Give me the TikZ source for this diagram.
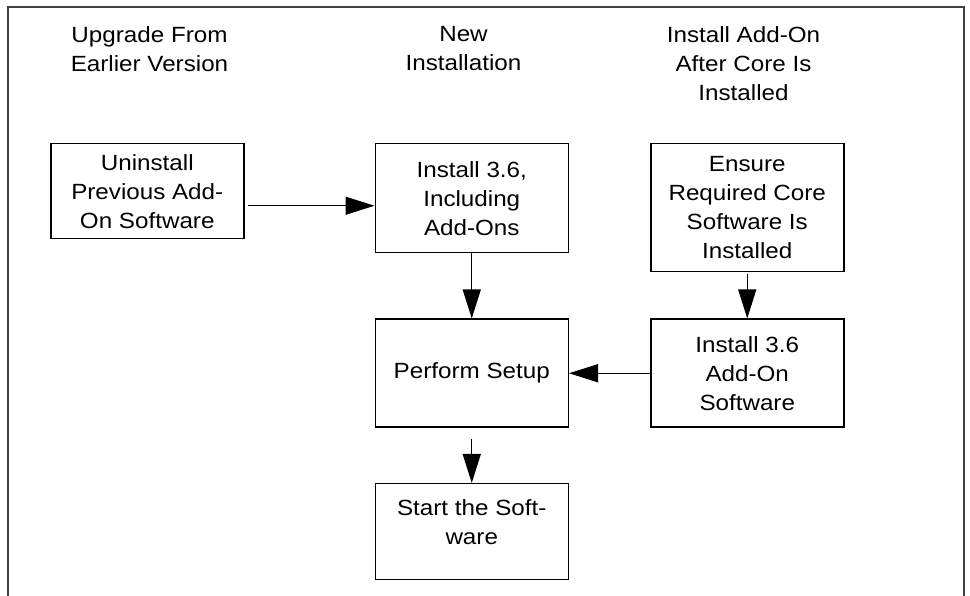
\documentclass[tikz,border=0pt]{standalone}
\usepackage{fontspec}
\setmainfont{Liberation Sans}[FakeStretch=1.1]
\usetikzlibrary{positioning,arrows.meta}

\begin{document}
\begin{tikzpicture}[x=1pt,y=1pt,
  step box/.style={draw, line width=1.5pt, minimum width=193pt, inner sep=2pt,
    align=center, font=\fontsize{22}{29}\selectfont},
  header/.style={anchor=north, inner sep=0pt, align=center,
    font=\fontsize{22}{29}\selectfont},
  arr/.style={line width=1.3pt, -{Triangle[length=29pt,width=18pt]}}]
\useasboundingbox (0,0) rectangle (970,596);
\draw[line width=2.5pt, black!75] (8,0) -- (8,589) -- (964,589) -- (964,0);
% column headers
\node (upgrade) [header] at (149.5,570) {Upgrade From\\Earlier Version};
\node (newinst) [header] at (463.5,570) {New\\Installation};
\node (addlater) [header] at (743.5,570) {Install Add-On\\After Core Is\\Installed};
% steps
\node (uninst) [step box, minimum height=95pt, anchor=north west] at (50,453)
  {Uninstall\\Previous Add-\\On Software};
\node (inst) [step box, minimum height=109pt, right=130pt of uninst.north east,
  anchor=north west] {Install 3.6,\\Including\\Add-Ons};
\node (ensure) [step box, minimum height=128pt, right=81pt of inst.north east,
  anchor=north west] {Ensure\\Required Core\\Software Is\\Installed};
\node (setup) [step box, minimum height=108pt, below=65pt of inst] {Perform Setup};
\node (addon) [step box, minimum height=108pt, right=81pt of setup]
  {Install 3.6\\Add-On\\Software};
\node (start) [step box, minimum height=96pt, text depth=20pt, below=55pt of setup]
  {Start the Soft-\\ware};
\coordinate (link) at ([yshift=-14.5pt]uninst.east);
\draw[arr, shorten <=3pt] (link) -- (link -| inst.west);
\draw[arr] (inst) -- (setup);
\draw[arr, shorten <=2pt] (ensure) -- (addon);
\draw[arr] (addon) -- (setup);
\draw[arr, shorten <=11pt] (setup) -- (start);
\end{tikzpicture}
\end{document}
